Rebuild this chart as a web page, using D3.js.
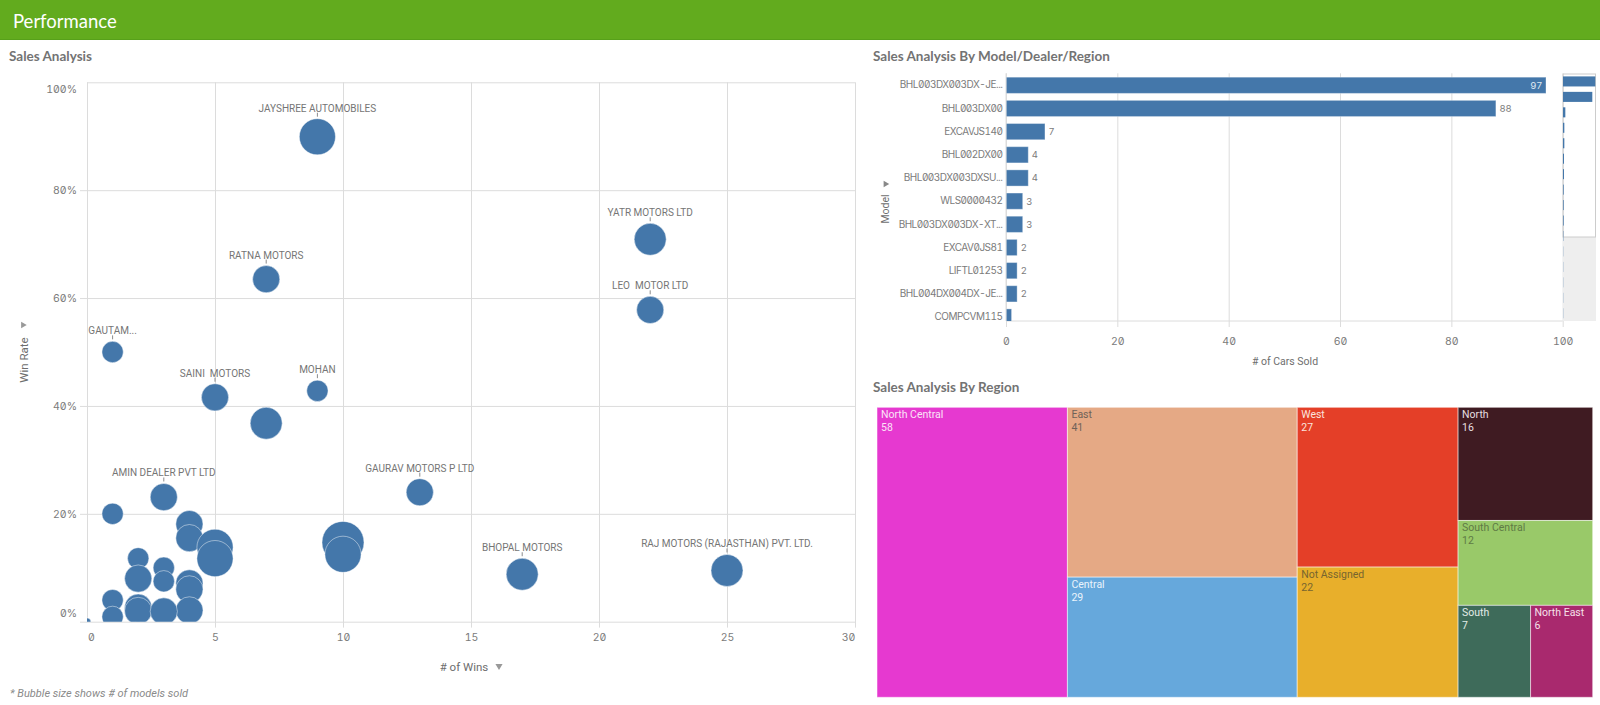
<!DOCTYPE html>
<html>
<head>
<meta charset="utf-8">
<script src="https://cdn.jsdelivr.net/npm/d3@7"></script>
<style>
  html, body { margin: 0; padding: 0; background: #fff; overflow: hidden; }
  text { font-family: Roboto, sans-serif; }
  .title { font-family: Lato, sans-serif; font-weight: 700; font-size: 13.5px; fill: #737373; }
  .tick text, .num { font-family: Inter, sans-serif; font-feature-settings: "zero", "tnum"; font-size: 10.5px; fill: #7b7b7b; }
  .axis-title { font-size: 10.5px; fill: #6e6e6e; }
  .domain { display: none; }
  .tick line { stroke: #dcdcdc; }
</style>
</head>
<body>
<div id="chart"></div>
<script>
// bubble chart
var dealers = ["JAYSHREE AUTOMOBILES", "YATR MOTORS LTD", "RATNA MOTORS", "LEO  MOTOR LTD", "GAUTAM...", "MOHAN", "SAINI  MOTORS", "", "GAURAV MOTORS P LTD", "AMIN DEALER PVT LTD", "", "", "", "", "", "", "", "", "RAJ MOTORS (RAJASTHAN) PVT. LTD.", "", "BHOPAL MOTORS", "", "", "", "", "", "", "", "", "", "", ""];
var wins = [9, 22, 7, 22, 1, 9, 5, 7, 13, 3, 1, 4, 4, 10, 5, 10, 2, 5, 25, 3, 17, 2, 3, 4, 4, 1, 2, 4, 2, 3, 1, 0];
var winRate = [89.9, 70.9, 63.5, 57.8, 50, 42.8, 41.6, 36.8, 24, 23.1, 20, 18.1, 15.5, 14.7, 13.8, 12.5, 11.75, 11.7, 9.5, 10, 8.8, 8, 7.5, 7.1, 6, 4, 2.6, 2.1, 2, 1.9, 0.9, 0];
var modelsSold = [23, 18, 13, 13, 8, 8, 13, 18, 13, 13, 8, 13, 13, 31, 23, 23, 8, 23, 18, 8, 18, 13, 8, 13, 13, 8, 13, 13, 13, 13, 8, 1];
var winTicks = [0, 5, 10, 15, 20, 25, 30];
var rateTicks = [0, 20, 40, 60, 80, 100];

// bar chart
var models = ["BHL003DX003DX-JE...", "BHL003DX00", "EXCAVJS140", "BHL002DX00", "BHL003DX003DXSU...", "WLS0000432", "BHL003DX003DX-XT...", "EXCAV0JS81", "LIFTL01253", "BHL004DX004DX-JE...", "COMPCVM115"];
var carsSold = [97, 88, 7, 4, 4, 3, 3, 2, 2, 2, 1];
var scrolledOff = [1, 1, 1, 1, 1];
var carTicks = [0, 20, 40, 60, 80, 100];

// treemap
var regions = ["North Central", "East", "Central", "West", "Not Assigned", "North", "South Central", "South", "North East"];
var regionSales = [58, 41, 29, 27, 22, 16, 12, 7, 6];
var regionColors = ["#e639d0", "#e5a985", "#66a8dc", "#e43f28", "#e8af2b", "#3f1b22", "#99c969", "#3e6b5a", "#a9296e"];
var regionText = ["#fbe3f7", "#6f6258", "#eaf3fb", "#fbe3de", "#77652f", "#e6dfe0", "#5f7a45", "#e3ebe8", "#f5e0ea"];

var blue = "#4477aa";

var svg = d3.select("#chart").append("svg")
  .attr("width", 1600)
  .attr("height", 705)
  .style("display", "block");

// header
svg.append("rect").attr("width", 1600).attr("height", 40).attr("fill", "#62ab1e");
svg.append("rect").attr("y", 39).attr("width", 1600).attr("height", 1).attr("fill", "#57a01a");
svg.append("text").attr("x", 13).attr("y", 28).attr("fill", "#fff")
  .style("font-family", "Lato, sans-serif").style("font-size", "18.5px").text("Performance");

svg.append("text").attr("class", "title").attr("x", 9).attr("y", 61).text("Sales Analysis");
svg.append("text").attr("class", "title").attr("x", 873).attr("y", 61).text("Sales Analysis By Model/Dealer/Region");
svg.append("text").attr("class", "title").attr("x", 873).attr("y", 392).text("Sales Analysis By Region");

// ---- bubbles ----
var x = d3.scaleLinear().domain([0, 30]).range([87, 855]);
var y = d3.scaleLinear().domain([0, 100]).range([621.7, 82.3]);
var r = d3.scaleSqrt().domain([0, 31]).range([0, 21]);

var xAxis = d3.axisBottom(x).tickValues(winTicks).tickSizeInner(540).tickSizeOuter(0).tickPadding(0);
var gx = svg.append("g").attr("transform", "translate(0,82.3)").call(xAxis);
gx.selectAll(".tick line").attr("y2", function (d) { return d === 0 ? 539.4 : 545.3; });
gx.selectAll(".tick text").attr("y", 551)
  .attr("dx", function (d) { return d === 0 ? 4 : d === 30 ? -7 : 0; });

var yAxis = d3.axisLeft(y).tickValues(rateTicks)
  .tickFormat(function (d) { return d + "%"; })
  .tickSize(0).tickPadding(10);
var gy = svg.append("g").attr("transform", "translate(87,0)").call(yAxis);
gy.selectAll(".tick line").attr("x1", function (d) { return d === 100 ? 0 : -7; }).attr("x2", 768);
gy.selectAll(".tick text")
  .attr("dy", function (d) { return d === 100 ? "1em" : d === 0 ? "-0.45em" : "0.32em"; });

svg.append("clipPath").attr("id", "plot-clip").append("rect")
  .attr("x", 87).attr("y", 82.3).attr("width", 768).attr("height", 539.4);

var bubbles = d3.range(wins.length).map(function (i) {
  return { name: dealers[i], wins: wins[i], rate: winRate[i], size: modelsSold[i] };
});

svg.append("g").attr("clip-path", "url(#plot-clip)")
  .selectAll("circle").data(bubbles).join("circle")
  .attr("cx", function (d) { return x(d.wins); })
  .attr("cy", function (d) { return y(d.rate); })
  .attr("r", function (d) { return r(d.size); })
  .attr("fill", blue)
  .attr("stroke", "#fff").attr("stroke-opacity", 0.45);

var labelled = bubbles.filter(function (d) { return d.name; });
svg.append("g").selectAll("line").data(labelled).join("line")
  .attr("x1", function (d) { return x(d.wins); })
  .attr("x2", function (d) { return x(d.wins); })
  .attr("y1", function (d) { return y(d.rate) - r(d.size) - 6; })
  .attr("y2", function (d) { return y(d.rate) - r(d.size) - 2; })
  .attr("stroke", "#8c8c8c");
svg.append("g").selectAll("text").data(labelled).join("text")
  .attr("x", function (d) { return x(d.wins); })
  .attr("y", function (d) { return y(d.rate) - r(d.size) - 7; })
  .attr("text-anchor", "middle")
  .attr("fill", "#757575")
  .style("font-size", "10px")
  .style("white-space", "pre")
  .text(function (d) { return d.name; });

svg.append("text").attr("class", "axis-title").attr("x", 464).attr("y", 671)
  .attr("text-anchor", "middle").style("font-size", "11.5px").text("# of Wins");
svg.append("path").attr("d", d3.symbol(d3.symbolTriangle, 22)()).attr("fill", "#999")
  .attr("transform", "translate(499,666) rotate(180)");
svg.append("text").attr("class", "axis-title").attr("text-anchor", "middle")
  .attr("transform", "translate(28,360) rotate(-90)").style("font-size", "11.5px").text("Win Rate");
svg.append("path").attr("d", d3.symbol(d3.symbolTriangle, 18)()).attr("fill", "#999")
  .attr("transform", "translate(23,325) rotate(90)");
svg.append("text").attr("x", 10).attr("y", 697).attr("fill", "#8a8a8a")
  .style("font-size", "11px").style("font-style", "italic")
  .text("* Bubble size shows # of models sold");

// ---- bars ----
var bx = d3.scaleLinear().domain([0, 100]).range([1006, 1562.7]);
var by = d3.scaleBand().domain(models).range([73.7, 328.6]).paddingInner(0.3).paddingOuter(0.15);

var gbx = svg.append("g").attr("transform", "translate(0,321)")
  .call(d3.axisBottom(bx).tickValues(carTicks).tickSizeOuter(0));
gbx.selectAll(".tick line").attr("y1", -247.7).attr("y2", 6);
gbx.selectAll(".tick text").attr("y", 17);
svg.append("line").attr("x1", 1006).attr("x2", 1562.7).attr("y1", 321).attr("y2", 321).attr("stroke", "#dcdcdc");

svg.append("clipPath").attr("id", "bar-clip").append("rect")
  .attr("x", 1006).attr("y", 73.3).attr("width", 557).attr("height", 247.7);

var bars = models.map(function (m, i) { return { model: m, value: carsSold[i] }; });
svg.append("g").attr("clip-path", "url(#bar-clip)")
  .selectAll("rect").data(bars).join("rect")
  .attr("x", bx(0))
  .attr("y", function (d) { return by(d.model); })
  .attr("width", function (d) { return bx(d.value) - bx(0); })
  .attr("height", by.bandwidth())
  .attr("fill", blue)
  .attr("stroke", "#fff").attr("stroke-opacity", 0.35);

svg.append("g").selectAll("text").data(bars.slice(0, 10)).join("text")
  .attr("class", "num")
  .attr("x", function (d) { return d.value > 90 ? bx(d.value) - 3.5 : bx(d.value) + 3.5; })
  .attr("y", function (d) { return by(d.model) + by.bandwidth() / 2 + 3.5; })
  .attr("text-anchor", function (d) { return d.value > 90 ? "end" : "start"; })
  .style("font-size", "9.5px")
  .style("fill", function (d) { return d.value > 90 ? "#dfe8f1" : "#7b7b7b"; })
  .text(function (d) { return d.value; });

var gby = svg.append("g").attr("transform", "translate(1006,0)")
  .call(d3.axisLeft(by).tickSize(0).tickPadding(3.5));
gby.selectAll(".tick line").remove();
gby.selectAll(".tick text").style("font-size", "10px").style("letter-spacing", "-0.5px");
svg.append("line").attr("x1", 1006).attr("x2", 1006).attr("y1", 73.3).attr("y2", 321).attr("stroke", "#dcdcdc");

svg.append("text").attr("class", "axis-title").attr("text-anchor", "middle")
  .attr("transform", "translate(889,209) rotate(-90)").text("Model");
svg.append("path").attr("d", d3.symbol(d3.symbolTriangle, 18)()).attr("fill", "#888")
  .attr("transform", "translate(885.5,184) rotate(90)");
svg.append("text").attr("class", "axis-title").attr("x", 1285).attr("y", 365)
  .attr("text-anchor", "middle").text("# of Cars Sold");

// scroll overview
var miniValues = carsSold.concat(scrolledOff);
var mx = d3.scaleLinear().domain([0, 100]).range([1563, 1596.3]);
var my = d3.scaleBand().domain(d3.range(miniValues.length)).range([73.7, 321]).paddingInner(0.35).paddingOuter(0.175);
svg.append("rect").attr("x", 1563).attr("y", 237).attr("width", 33).attr("height", 84).attr("fill", "#eeeeee");
svg.append("rect").attr("x", 1563).attr("y", 74).attr("width", 32.5).attr("height", 163)
  .attr("fill", "none").attr("stroke", "#cccccc");
svg.append("g").selectAll("rect").data(miniValues).join("rect")
  .attr("x", mx(0))
  .attr("y", function (d, i) { return my(i); })
  .attr("width", function (d) { return mx(d) - mx(0); })
  .attr("height", my.bandwidth())
  .attr("fill", blue)
  .attr("fill-opacity", function (d, i) { return i > 10 ? 0.6 : 1; });

// ---- treemap ----
var root = d3.hierarchy({
  children: regions.map(function (n, i) {
    return { name: n, value: regionSales[i], color: regionColors[i], ink: regionText[i] };
  })
}).sum(function (d) { return d.value; });

d3.treemap().tile(d3.treemapSquarify.ratio(1)).size([715.7, 290])(root);

var cell = svg.append("g").attr("transform", "translate(877,407.3)")
  .selectAll("g").data(root.leaves()).join("g")
  .attr("transform", function (d) { return "translate(" + d.x0 + "," + d.y0 + ")"; });
cell.append("rect")
  .attr("width", function (d) { return d.x1 - d.x0; })
  .attr("height", function (d) { return d.y1 - d.y0; })
  .attr("fill", function (d) { return d.data.color; })
  .attr("stroke", "#fff").attr("stroke-opacity", 0.5);
cell.append("text").attr("x", 4).attr("y", 11)
  .attr("fill", function (d) { return d.data.ink; })
  .style("font-size", "10.5px")
  .text(function (d) { return d.data.name; });
cell.append("text").attr("x", 4).attr("y", 23.5)
  .attr("fill", function (d) { return d.data.ink; })
  .style("font-size", "10.5px")
  .text(function (d) { return d.data.value; });
</script>
</body>
</html>
